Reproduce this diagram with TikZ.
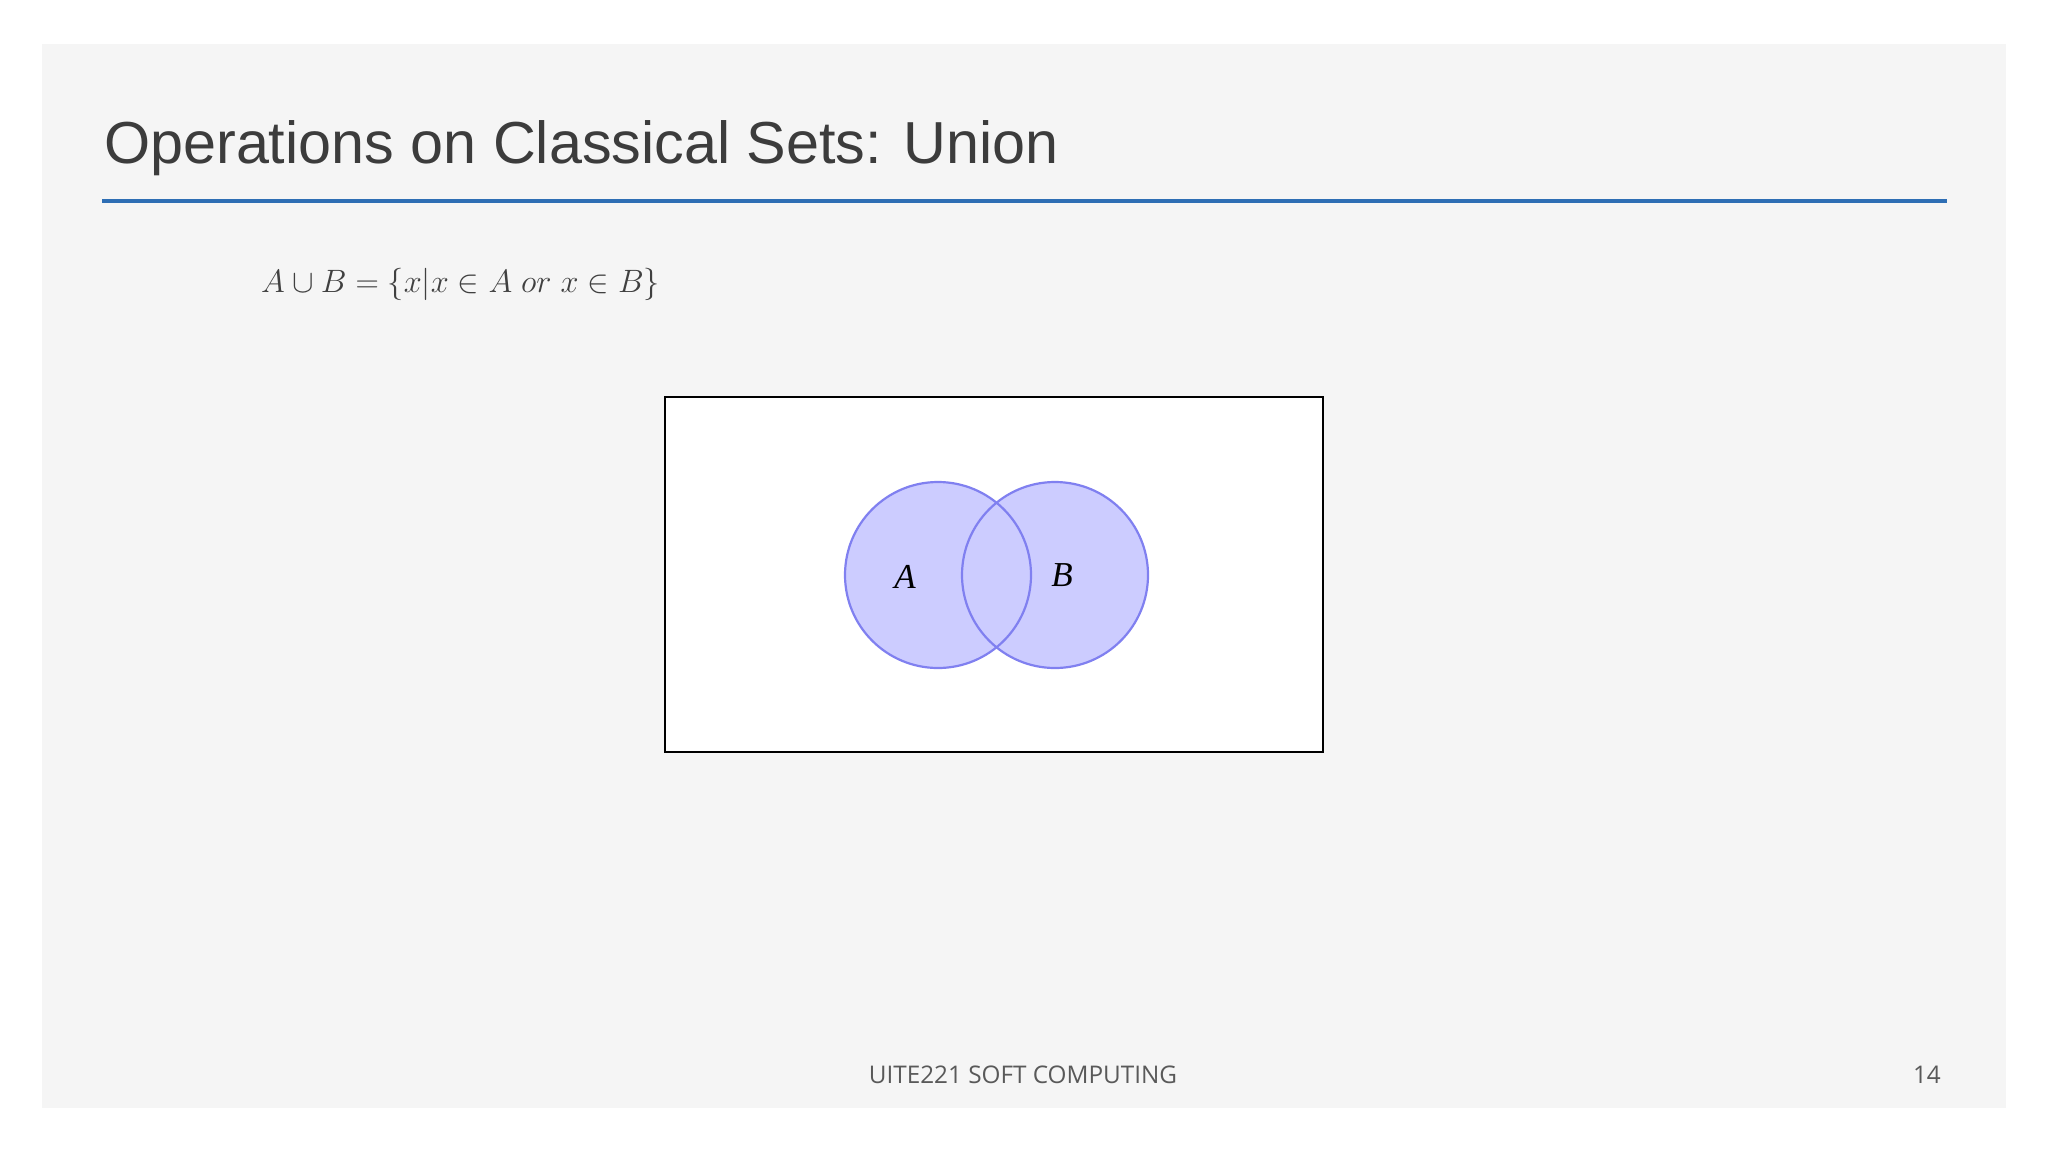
\documentclass[tikz,border=0pt]{standalone}
\usepackage{graphicx}
\usepackage{fontspec}
\setmainfont{Liberation Sans}
\newfontfamily\footfont{Open Sans}
\newfontfamily\labfont{Liberation Serif}
\definecolor{slidebg}{RGB}{245,245,245}
\definecolor{titlegray}{RGB}{60,60,60}
\definecolor{rulecol}{RGB}{46,110,180}
\definecolor{formgray}{RGB}{64,64,64}
\definecolor{vennfill}{RGB}{204,204,255}
\definecolor{vennline}{RGB}{128,128,240}
\definecolor{footgray}{RGB}{89,89,89}
\begin{document}
\begin{tikzpicture}[x=1pt,y=-1pt,
  setdisc/.style={circle, fill=vennfill, draw=none, minimum size=186pt, inner sep=0pt},
  setlabel/.style={font=\labfont\itshape\fontsize{35}{40}\selectfont, inner sep=0pt},
  foot/.style={font=\footfont\fontsize{24.3}{28}\selectfont, text=footgray, inner sep=0pt}]
\useasboundingbox (0,0) rectangle (2048,1152);
\fill[white] (0,0) rectangle (2048,1152);
\fill[slidebg] (42,44) rectangle (2006,1108);
\node[anchor=base west, font=\fontsize{59.3}{70}\selectfont, text=titlegray, inner sep=0pt] (title) at (104,163) {Operations on Classical Sets: Union};
\coordinate (ruleL) at (102,201);
\coordinate (ruleR) at (1947,201);
\draw[rulecol, line width=4pt] (ruleL) -- (ruleR);
\node[anchor=west, text=formgray, font=\fontsize{24.88}{30}\selectfont, inner sep=0pt] (formula) at (261,284) {\scalebox{1.3}{$A\cup B=\{x|x\in A\ or\ x\in B\}$}};
\node[draw=black, fill=white, line width=2pt, minimum width=658pt, minimum height=355pt, inner sep=0pt] (universe) at (994,574.5) {};
\node[setdisc] (A) at (938,575) {};
\node[setdisc] (B) at (1055,575) {};
\draw[vennline, line width=2.2pt] (A.center) circle[radius=93pt];
\draw[vennline, line width=2.2pt] (B.center) circle[radius=93pt];
\node[setlabel] (labA) at (905,577) {A};
\node[setlabel] (labB) at (1062,575) {B};
\node[foot] (footer) at (1023,1075) {UITE221 SOFT COMPUTING};
\node[foot, anchor=east] (page) at (1941,1075) {14};
\end{tikzpicture}
\end{document}
